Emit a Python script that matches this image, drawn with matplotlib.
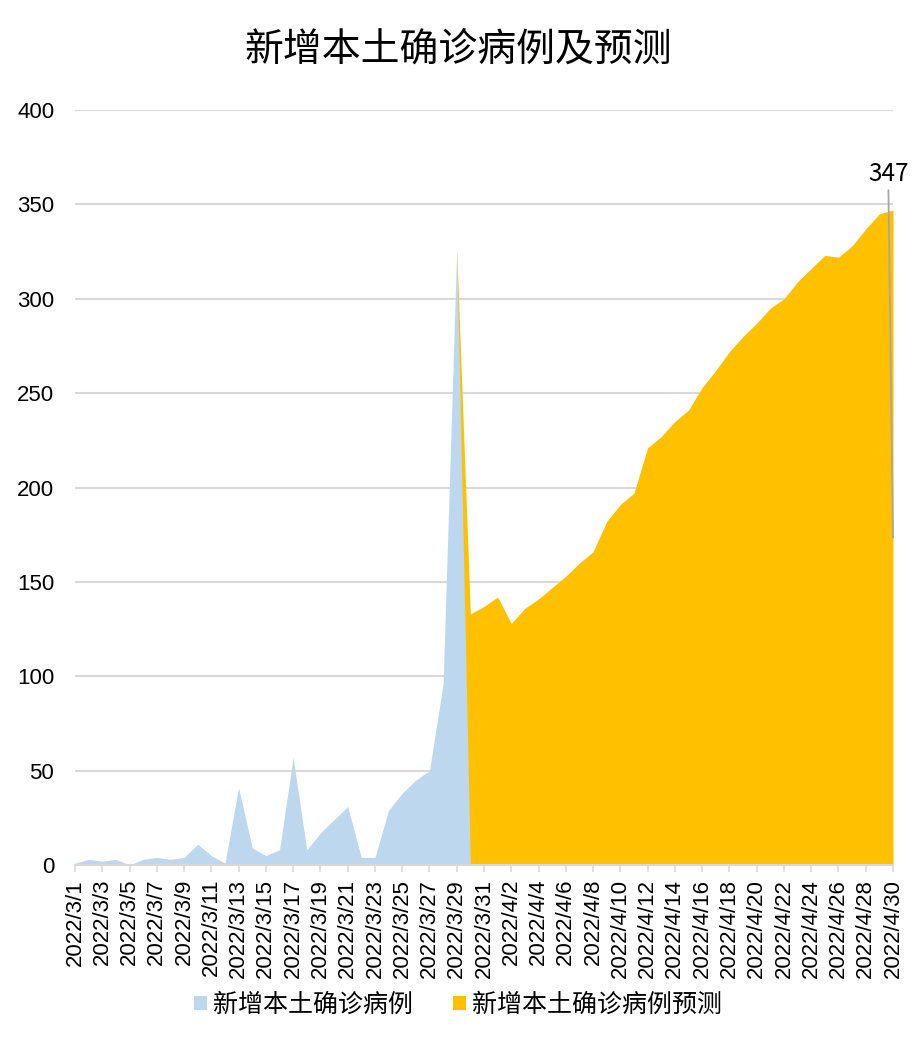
import matplotlib
matplotlib.use("Agg")
import matplotlib.pyplot as plt
from matplotlib.patches import Patch
import pandas as pd

plt.rcParams['font.family'] = ['Noto Sans CJK SC', 'DejaVu Sans']

# 日期 2022/3/1 - 2022/4/30
dates = pd.date_range("2022-03-01", "2022-04-30")
date_labels = [f"{d.year}/{d.month}/{d.day}" for d in dates]

# 实际新增本土确诊 (3/1 - 3/30)
actual = [1, 3, 2, 3, 0, 3, 4, 3, 4, 11, 5, 1, 41, 9, 5, 8, 57, 8, 17, 24,
          31, 4, 4, 29, 38, 45, 50, 96, 326, 0]
# 预测 (3/29 - 4/30)
forecast_start = 28
forecast = [326, 133, 137, 142, 128, 136, 141, 147, 153, 160, 166, 182, 191,
            197, 221, 227, 235, 241, 253, 262, 272, 280, 287, 295, 300, 309,
            316, 323, 322, 328, 337, 345, 347]

title = "新增本土确诊病例及预测"
label_actual = "新增本土确诊病例"
label_forecast = "新增本土确诊病例预测"

c_actual = "#BDD7EE"
c_forecast = "#FFC000"
c_grid = "#D9D9D9"

fig = plt.figure(figsize=(9.16, 10.4), dpi=100)
ax = fig.add_axes([75 / 916, 1 - 865 / 1040, (893 - 75) / 916, (865 - 110) / 1040])

x_act = list(range(len(actual)))
x_fc = list(range(forecast_start, forecast_start + len(forecast)))

# 预测在下层，实际数据覆盖在上层
ax.fill_between(x_fc, 0, forecast, color=c_forecast, linewidth=0, zorder=2)
ax.fill_between(x_act, 0, actual, color=c_actual, linewidth=0, zorder=3)

ax.set_xlim(0, len(dates) - 1)
ax.set_ylim(0, 400)
ax.set_yticks(range(0, 401, 50))
ax.yaxis.grid(True, color=c_grid, linewidth=1.5, zorder=0)
ax.set_axisbelow(True)

ax.set_xticks(range(0, len(dates), 2))
ax.set_xticklabels(date_labels[::2], rotation=90, family='Liberation Sans',
                   fontsize=16, va='top', ha='center')
for lab in ax.get_yticklabels():
    lab.set_family('Liberation Sans')
    lab.set_fontsize(16)
ax.tick_params(axis='x', length=5, color=c_grid, width=1.2, pad=5)
ax.tick_params(axis='y', length=0, pad=15)

for s in ['top', 'right', 'left']:
    ax.spines[s].set_visible(False)
ax.spines['bottom'].set_color(c_grid)
ax.spines['bottom'].set_linewidth(1.5)
ax.spines['bottom'].set_zorder(4)

# 最后一点数据标签
last_x = x_fc[-1]
last_y = forecast[-1]
ax.annotate(str(last_y), xy=(last_x, last_y / 2), xytext=(last_x - 0.35, 359),
            ha='center', va='bottom', fontsize=17.5, color='black',
            arrowprops=dict(arrowstyle='-', color='#A6A6A6', lw=1.3,
                            shrinkA=0, shrinkB=0),
            zorder=5, annotation_clip=False)

fig.text(0.5, 1 - 50 / 1040, title, ha='center', va='center', fontsize=28)

handles = [Patch(facecolor=c_actual, edgecolor='none', label=label_actual),
           Patch(facecolor=c_forecast, edgecolor='none', label=label_forecast)]
fig.legend(handles=handles, loc='center', bbox_to_anchor=(0.5, 1 - 1005 / 1040),
           ncol=2, frameon=False, fontsize=18, handlelength=0.5,
           handleheight=0.5, handletextpad=0.25, columnspacing=1.6)

fig.savefig("out.png", dpi=100)
